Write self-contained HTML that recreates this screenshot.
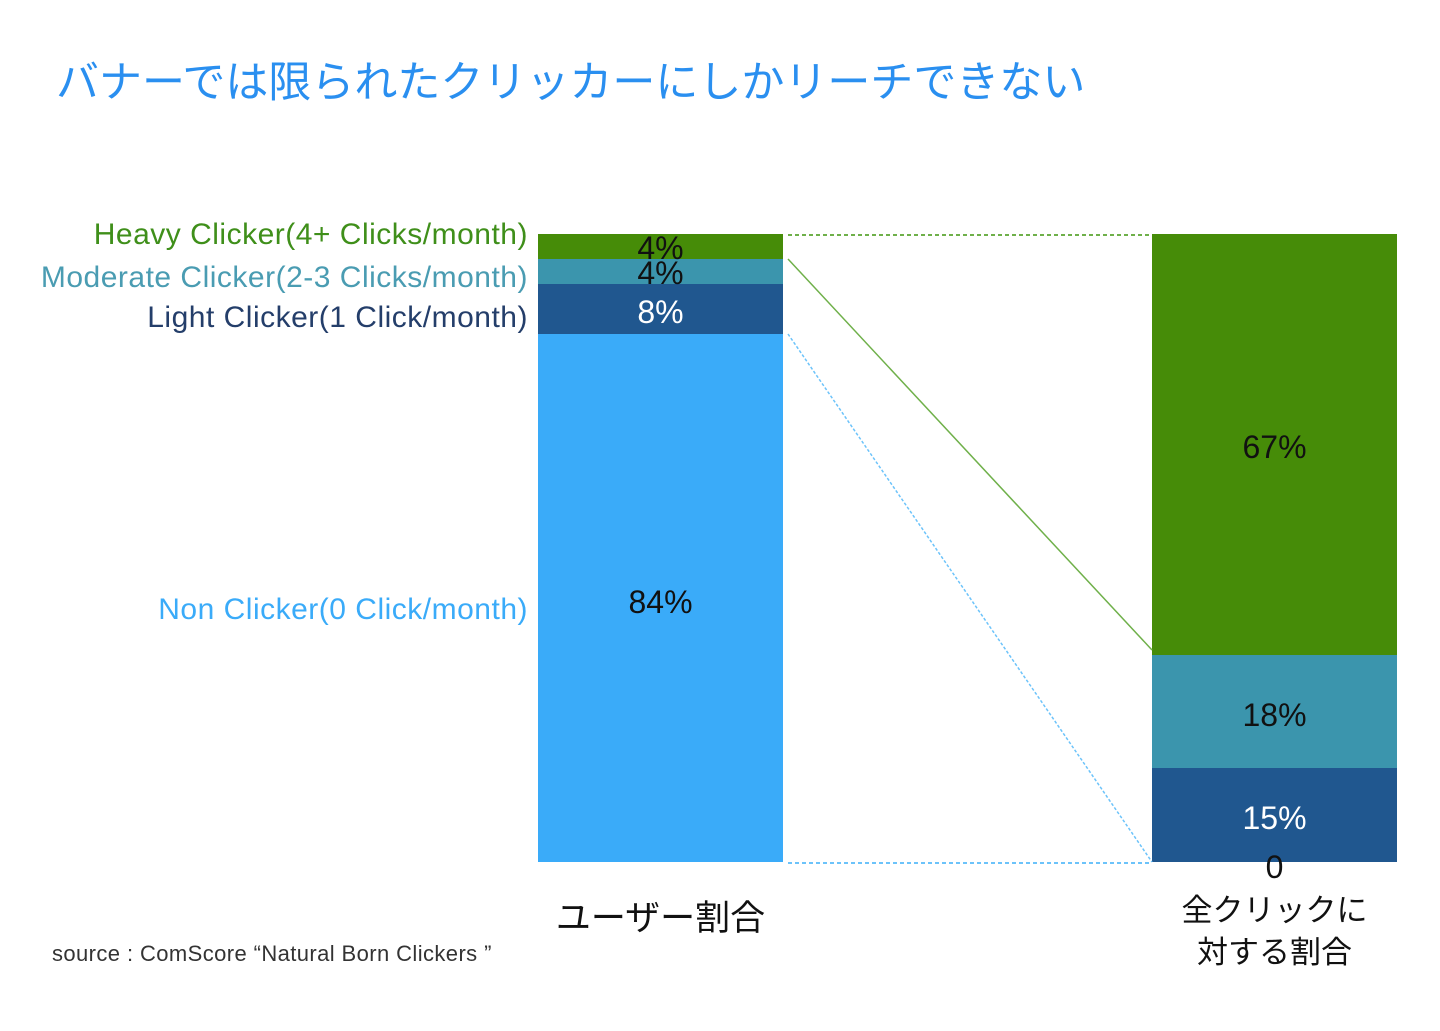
<!DOCTYPE html>
<html><head><meta charset="utf-8"><style>
html,body{margin:0;padding:0;background:#fff;}
body{width:1440px;height:1031px;position:relative;overflow:hidden;font-family:"Liberation Sans","Noto Sans CJK JP",sans-serif;}
.t{position:absolute;white-space:nowrap;}
.lg{font-size:30px;letter-spacing:0.5px;}
.p{font-size:32px;}
</style></head><body>
<div class="t" style="left:56px;top:48px;font-size:43px;color:#2a8ff0;">バナーでは限られたクリッカーにしかリーチできない</div>
<svg width="1440" height="1031" style="position:absolute;left:0;top:0">
<rect x="538" y="234" width="245" height="25" fill="#468c08"/>
<rect x="538" y="259" width="245" height="25" fill="#3b95ad"/>
<rect x="538" y="284" width="245" height="50" fill="#20578f"/>
<rect x="538" y="334" width="245" height="528" fill="#3aabf9"/>
<rect x="1152" y="234" width="245" height="421" fill="#468c08"/>
<rect x="1152" y="655" width="245" height="113" fill="#3b95ad"/>
<rect x="1152" y="768" width="245" height="94" fill="#20578f"/>
<line x1="788" y1="235" x2="1152" y2="235" stroke="#6fb04a" stroke-width="2" stroke-dasharray="4,3"/>
<line x1="788" y1="259" x2="1152" y2="650" stroke="#6fb04a" stroke-width="1.5"/>
<line x1="788" y1="334" x2="1152" y2="862" stroke="#6cc3fa" stroke-width="1.5" stroke-dasharray="3,2"/>
<line x1="788" y1="863" x2="1152" y2="863" stroke="#6cc3fa" stroke-width="2" stroke-dasharray="4,3"/>
</svg>
<div class="t lg" style="right:912px;top:218px;color:#3f8f1a;">Heavy Clicker(4+ Clicks/month)</div>
<div class="t lg" style="right:912px;top:261px;color:#4a9cb2;">Moderate Clicker(2-3 Clicks/month)</div>
<div class="t lg" style="right:912px;top:301px;color:#243e6a;">Light Clicker(1 Click/month)</div>
<div class="t lg" style="right:912px;top:593px;color:#3aabf9;">Non Clicker(0 Click/month)</div>
<div class="t p" style="left:538px;width:245px;text-align:center;top:230px;color:#111;">4%</div>
<div class="t p" style="left:538px;width:245px;text-align:center;top:255px;color:#111;">4%</div>
<div class="t p" style="left:538px;width:245px;text-align:center;top:294px;color:#fff;">8%</div>
<div class="t p" style="left:538px;width:245px;text-align:center;top:584px;color:#111;">84%</div>
<div class="t p" style="left:1152px;width:245px;text-align:center;top:429px;color:#111;">67%</div>
<div class="t p" style="left:1152px;width:245px;text-align:center;top:697px;color:#111;">18%</div>
<div class="t p" style="left:1152px;width:245px;text-align:center;top:800px;color:#fff;">15%</div>
<div class="t p" style="left:1152px;width:245px;text-align:center;top:849px;color:#111;">0</div>
<div class="t" style="left:538px;width:245px;text-align:center;top:890px;font-size:35px;color:#111;">ユーザー割合</div>
<div class="t" style="left:1152px;width:245px;text-align:center;top:890px;font-size:31px;color:#111;line-height:42px;">全クリックに<br>対する割合</div>
<div class="t" style="left:52px;top:941px;font-size:22px;letter-spacing:0.4px;color:#333;">source : ComScore “Natural Born Clickers ”</div>
</body></html>
